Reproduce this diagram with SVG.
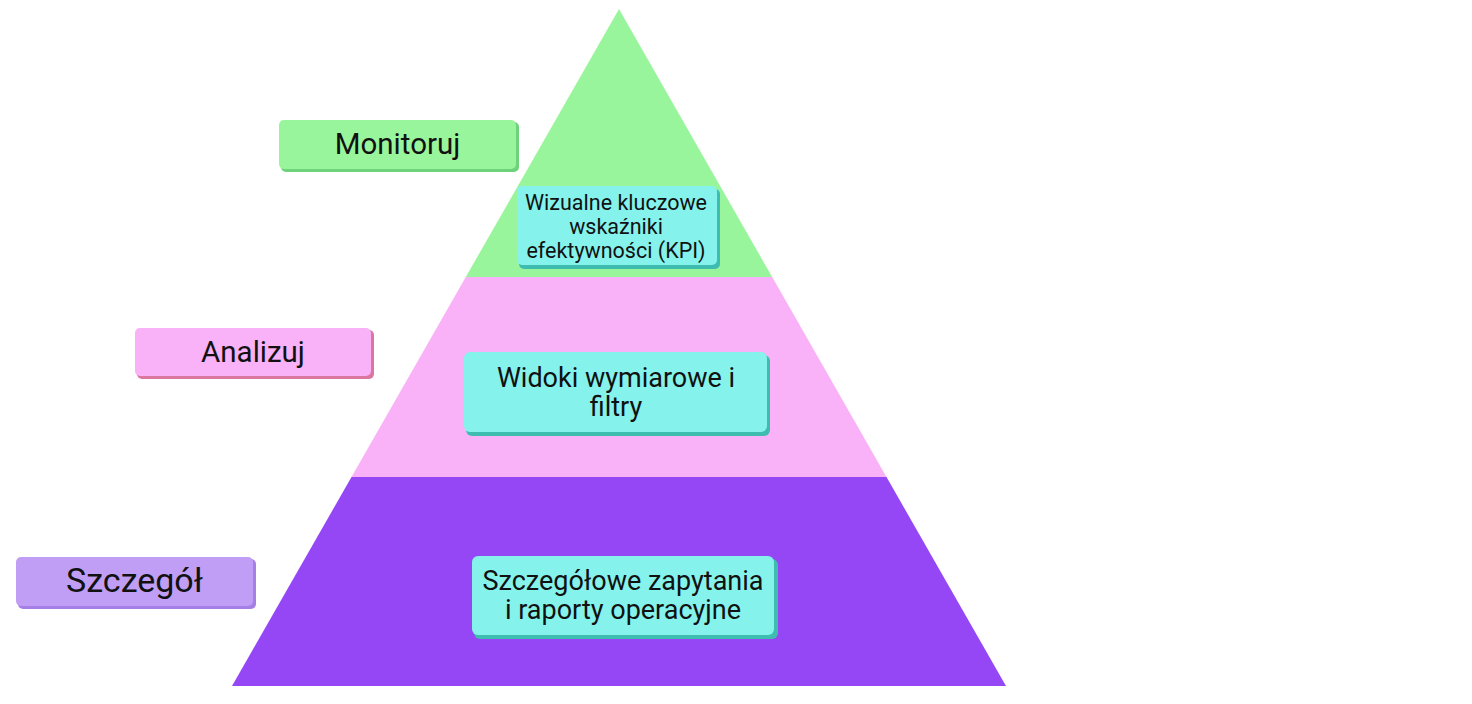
<svg xmlns="http://www.w3.org/2000/svg" width="1472" height="704" viewBox="0 0 1472 704">
<style>
text{font-family:Roboto,"Liberation Sans",sans-serif;fill:#111;text-anchor:middle;dominant-baseline:central}
.lbl{font-size:29.5px}
.big{font-size:34px}
.in{font-size:27px}
.sm{font-size:21.5px}
.cy{fill:#85f3ec}
.cys{fill:#3fbcb0}
</style>
<rect width="1472" height="704" fill="#fff"/>
<g id="pyramid">
<polygon points="619,9 465.8,277 772.2,277" fill="#99f59b"/>
<polygon points="465.8,277 772.2,277 886.5,477 351.5,477" fill="#f9b1f8"/>
<polygon points="351.5,477 886.5,477 1006,686 232,686" fill="#9547f5"/>
</g>
<g id="label-monitoruj">
<rect x="281" y="122" width="238" height="50" rx="5" fill="#6ed27a"/>
<rect x="279" y="120" width="237" height="49" rx="5" fill="#99f59b"/>
<text class="lbl" x="397.5" y="144">Monitoruj</text>
</g>
<g id="label-analizuj">
<rect x="137" y="330" width="237" height="49" rx="5" fill="#d9779e"/>
<rect x="135" y="328" width="236" height="48" rx="5" fill="#f9b1f8"/>
<text class="lbl" x="253" y="352">Analizuj</text>
</g>
<g id="label-szczegol">
<rect x="18" y="559" width="238" height="50" rx="5" fill="#a57fe6"/>
<rect x="16" y="557" width="237" height="49" rx="5" fill="#c09ef5"/>
<text class="big" x="134.5" y="580">Szczegół</text>
</g>
<g id="box-kpi">
<rect class="cys" x="519" y="189" width="201" height="80" rx="5"/>
<rect class="cy" x="517" y="186" width="200" height="79" rx="5"/>
<text class="sm" x="616" y="202">Wizualne kluczowe</text>
<text class="sm" x="616" y="226">wskaźniki</text>
<text class="sm" x="616" y="250">efektywności (KPI)</text>
</g>
<g id="box-widoki">
<rect class="cys" x="466" y="355" width="304" height="81" rx="6"/>
<rect class="cy" x="464" y="352" width="303" height="80" rx="6"/>
<text class="in" x="616" y="378">Widoki wymiarowe i</text>
<text class="in" x="616" y="407">filtry</text>
</g>
<g id="box-szczegolowe">
<rect class="cys" x="474" y="559" width="304" height="80" rx="6"/>
<rect class="cy" x="472" y="556" width="302" height="79" rx="6"/>
<text class="in" x="623" y="581">Szczegółowe zapytania</text>
<text class="in" x="623" y="610">i raporty operacyjne</text>
</g>
<g id="connectors"/>
</svg>
